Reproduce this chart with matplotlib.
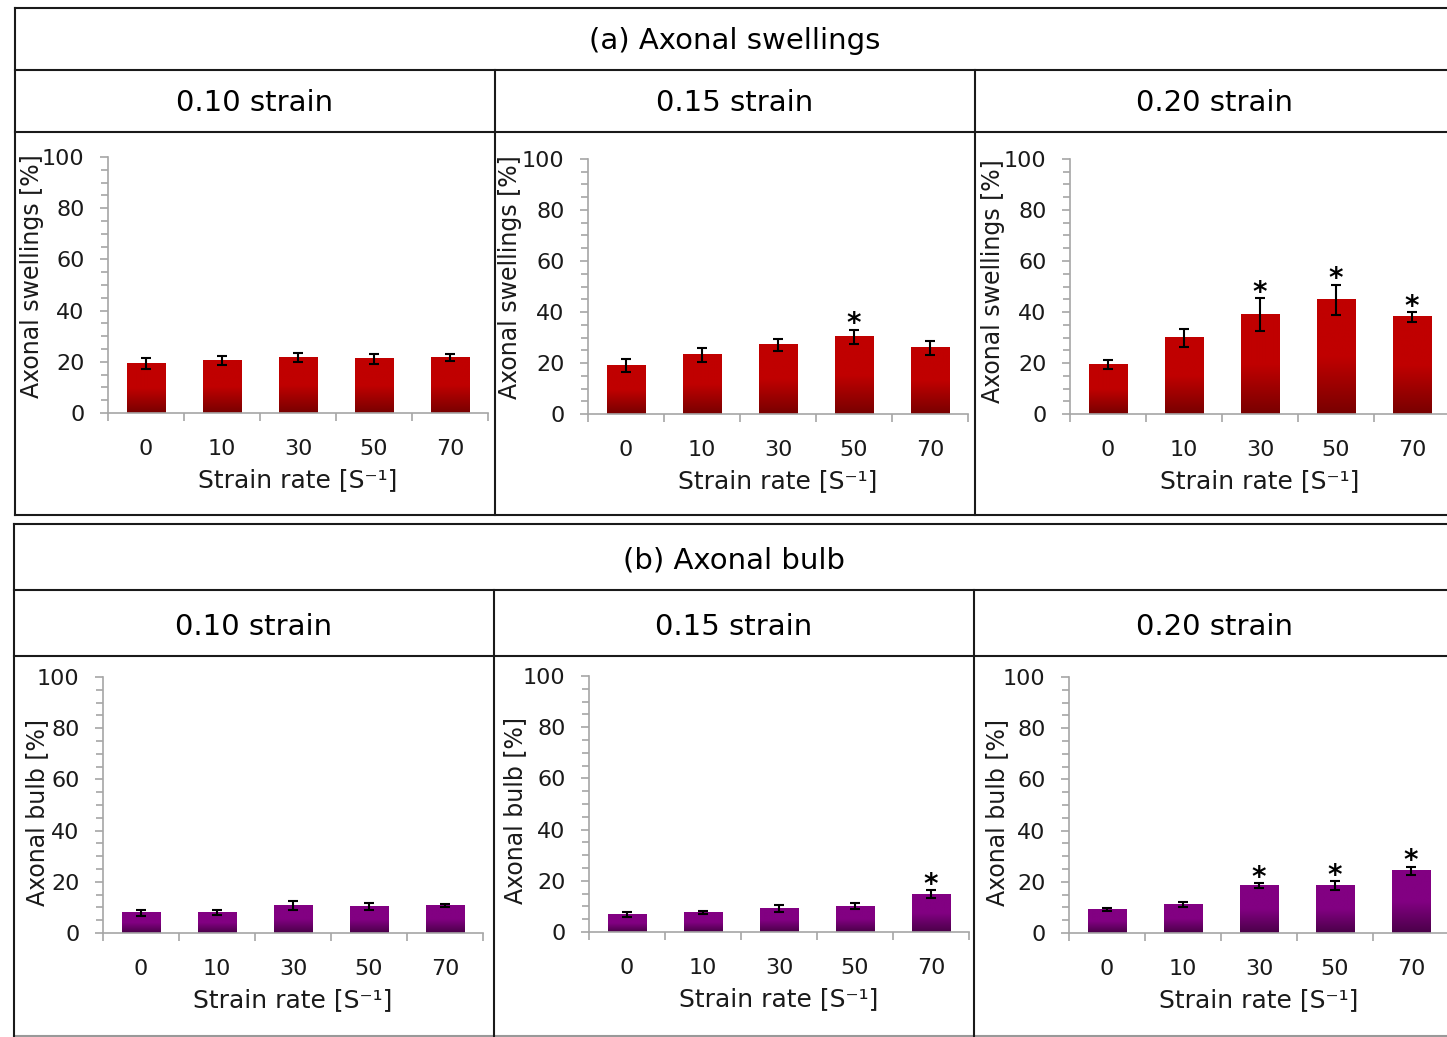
import numpy as np
import matplotlib
matplotlib.use('Agg')
import matplotlib.pyplot as plt
from matplotlib.lines import Line2D
from matplotlib.colors import to_rgb

# strain rate categories and table headers
rates = ['0', '10', '30', '50', '70']
strains = ['0.10 strain', '0.15 strain', '0.20 strain']

# (a) axonal swellings [%], mean and error
swell_010 = [19.3, 20.4, 21.6, 21.2, 21.6]
swell_010_err = [2.0, 1.8, 1.8, 2.0, 1.3]
swell_015 = [18.9, 23.2, 27.1, 30.2, 25.9]
swell_015_err = [2.6, 2.7, 2.2, 2.9, 2.9]
swell_020 = [19.3, 29.9, 38.9, 44.8, 38.1]
swell_020_err = [1.8, 3.6, 6.4, 5.9, 2.0]

# (b) axonal bulb [%]
bulb_010 = [7.9, 7.9, 10.7, 10.3, 10.7]
bulb_010_err = [1.2, 1.0, 1.8, 1.3, 0.65]
bulb_015 = [6.9, 7.7, 9.3, 10.0, 14.7]
bulb_015_err = [0.9, 0.65, 1.4, 1.2, 1.6]
bulb_020 = [9.1, 11.1, 18.5, 18.5, 24.3]
bulb_020_err = [0.65, 0.85, 1.1, 1.8, 1.6]

# significance marks (*)
swell_010_sig = [0, 0, 0, 0, 0]
swell_015_sig = [0, 0, 0, 1, 0]
swell_020_sig = [0, 0, 1, 1, 1]
bulb_010_sig = [0, 0, 0, 0, 0]
bulb_015_sig = [0, 0, 0, 0, 1]
bulb_020_sig = [0, 0, 1, 1, 1]

plt.rcParams['font.family'] = ['DejaVu Sans']

W, H = 1447, 1037
fig = plt.figure(figsize=(W / 100, H / 100), dpi=100)

LINE = '#1a1a1a'
AXC = '#a6a6a6'


def fx(x):
    return x / W


def fy(y):
    return 1 - y / H


def hline(y, x0, x1, color=LINE):
    fig.add_artist(Line2D([fx(x0), fx(x1)], [fy(y), fy(y)], color=color,
                          lw=1.5, transform=fig.transFigure))


def vline(x, y0, y1, color=LINE):
    fig.add_artist(Line2D([fx(x), fx(x)], [fy(y0), fy(y1)], color=color,
                          lw=1.5, transform=fig.transFigure))


def gradient_bar(ax, x, h, w, top, bottom):
    t = np.linspace(0, 1, 200)
    k = np.clip(t / 0.5, 0, 1)
    c0 = np.array(to_rgb(bottom))
    c1 = np.array(to_rgb(top))
    img = c0[None, :] * (1 - k[:, None]) + c1[None, :] * k[:, None]
    ax.imshow(img[:, None, :], extent=[x - w / 2, x + w / 2, 0, h], origin='lower',
              aspect='auto', interpolation='bilinear', zorder=2)


# table frames
hline(8, 15, W)
hline(70, 15, W)
hline(132, 15, W)
hline(515, 15, W)
vline(15, 8, 515)
vline(495, 70, 515)
vline(975, 70, 515)

hline(524, 14, W)
hline(590, 14, W)
hline(656, 14, W)
hline(1036, 14, W, color='#999999')
vline(14, 524, 1037)
vline(494, 590, 1037)
vline(974, 590, 1037)

fig.text(fx(735), fy(41), '(a) Axonal swellings', fontsize=21, ha='center', va='center')
fig.text(fx(734), fy(560), '(b) Axonal bulb', fontsize=21, ha='center', va='center')
for i, s in enumerate(strains):
    fig.text(fx(255 + 480 * i), fy(103), s, fontsize=21, ha='center', va='center')
    fig.text(fx(254 + 480 * i), fy(627), s, fontsize=21, ha='center', va='center')

red = ('#c00000', '#780000')
purple = ('#820082', '#4a0048')

panels = [
    (swell_010, swell_010_err, swell_010_sig, (108, 157, 413), (32, 276), 'Axonal swellings [%]', red),
    (swell_015, swell_015_err, swell_015_sig, (588, 159, 414), (510, 277), 'Axonal swellings [%]', red),
    (swell_020, swell_020_err, swell_020_sig, (1070, 159, 414), (993, 281), 'Axonal swellings [%]', red),
    (bulb_010, bulb_010_err, bulb_010_sig, (103, 677, 933), (37, 813), 'Axonal bulb [%]', purple),
    (bulb_015, bulb_015_err, bulb_015_sig, (589, 676, 932), (515, 810), 'Axonal bulb [%]', purple),
    (bulb_020, bulb_020_err, bulb_020_sig, (1069, 677, 933), (997, 812), 'Axonal bulb [%]', purple),
]

bw = 0.51
for vals, errs, sig, (left, top, bottom), (lx, ly), ylab, (ctop, cbot) in panels:
    ax = fig.add_axes([fx(left), fy(bottom), 380 / W, (bottom - top) / H])
    ax.set_facecolor('none')
    x = np.arange(len(rates))
    for xi, v in zip(x, vals):
        gradient_bar(ax, xi, v, bw, ctop, cbot)
    ax.errorbar(x, vals, yerr=errs, fmt='none', ecolor='black', elinewidth=1.5,
                capsize=3.5, capthick=1.5, zorder=3)
    for xi, v, e, s in zip(x, vals, errs, sig):
        if s:
            ax.annotate('*', xy=(xi, v + e), xytext=(0, -2), textcoords='offset points',
                        ha='center', va='baseline', fontsize=20, fontweight='bold', zorder=4)
    ax.set_xlim(-0.5, 4.5)
    ax.set_ylim(0, 100)
    for sp in ['top', 'right']:
        ax.spines[sp].set_visible(False)
    for sp in ['left', 'bottom']:
        ax.spines[sp].set_color(AXC)
        ax.spines[sp].set_linewidth(1.2)
    ax.set_yticks(range(0, 101, 20))
    ax.set_yticks(range(0, 101, 5), minor=True)
    ax.set_xticks(x)
    ax.set_xticklabels(rates)
    ax.set_xticks(np.arange(-0.5, 5), minor=True)
    ax.tick_params(axis='x', which='major', length=0, pad=18.5, labelsize=16, labelcolor=LINE)
    ax.tick_params(axis='x', which='minor', length=6, width=1.2, color=AXC, direction='out')
    ax.tick_params(axis='y', which='major', length=6, width=1.2, color=AXC, pad=11,
                   labelsize=16, labelcolor=LINE)
    ax.tick_params(axis='y', which='minor', length=5, width=1.2, color=AXC)
    ax.set_ylabel(ylab, fontsize=17, va='center', ha='center', color=LINE)
    ax.yaxis.set_label_coords(fx(lx), fy(ly), transform=fig.transFigure)
    ax.set_xlabel('Strain rate [S\u207b\u00b9]', fontsize=18, va='center', ha='center', color=LINE)
    ax.xaxis.set_label_coords(fx(left + 190), fy(bottom + 67), transform=fig.transFigure)

fig.savefig('out.png', dpi=100)
